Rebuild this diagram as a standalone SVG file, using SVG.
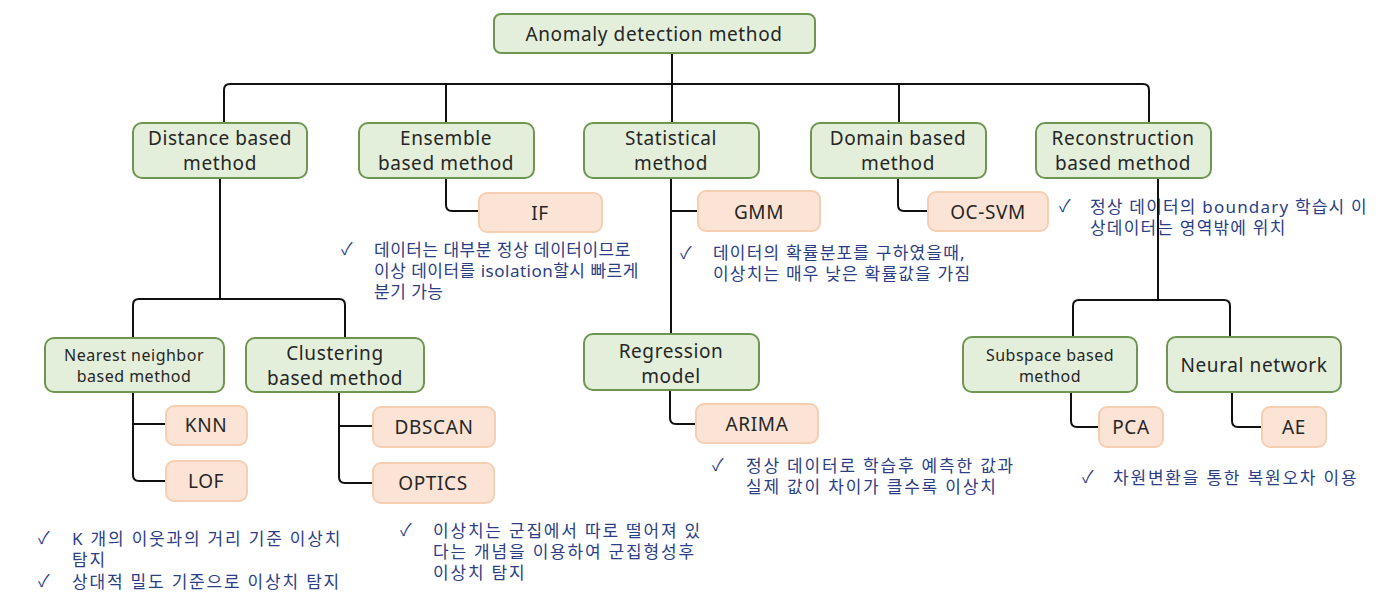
<svg xmlns="http://www.w3.org/2000/svg" width="1382" height="608" viewBox="0 0 1382 608">
<style>
.g{fill:#E3EFDB;stroke:#6F9650;stroke-width:2}
.o{fill:#FBE4D5;stroke:#F6CFB2;stroke-width:2}
.t{font-family:"Noto Sans","Liberation Sans",sans-serif;font-size:19px;letter-spacing:0.6px;fill:#262626;text-anchor:middle;dominant-baseline:central}
.s{font-size:16px;letter-spacing:0.5px}
.k{font-family:"Noto Sans","Noto Sans CJK KR",sans-serif;font-size:17px;letter-spacing:0.5px;fill:#2B3E86;dominant-baseline:central}
.m{letter-spacing:1.2px}
.w{letter-spacing:1.8px}
.c{fill:none;stroke:#111;stroke-width:2}
</style>
<rect width="1382" height="608" fill="#fff"/>
<g id="notes">
<text class="k" x="341" y="248">✓</text>
<text class="k" x="374" y="249">데이터는 대부분 정상 데이터이므로</text>
<text class="k" x="374" y="270">이상 데이터를 isolation할시 빠르게</text>
<text class="k" x="374" y="291">분기 가능</text>
<text class="k" x="680" y="252">✓</text>
<text class="k m" x="713" y="252">데이터의 확률분포를 구하였을때,</text>
<text class="k m" x="713" y="273">이상치는 매우 낮은 확률값을 가짐</text>
<text class="k" x="1059" y="205">✓</text>
<text class="k m" x="1090" y="206">정상 데이터의 boundary 학습시 이</text>
<text class="k m" x="1090" y="227">상데이터는 영역밖에 위치</text>
<text class="k" x="712" y="464">✓</text>
<text class="k w" x="746" y="465">정상 데이터로 학습후 예측한 값과</text>
<text class="k w" x="746" y="486">실제 값이 차이가 클수록 이상치</text>
<text class="k" x="1082" y="476">✓</text>
<text class="k w" x="1113" y="477">차원변환을 통한 복원오차 이용</text>
<text class="k" x="38" y="537">✓</text>
<text class="k w" x="72" y="538">K 개의 이웃과의 거리 기준 이상치</text>
<text class="k w" x="72" y="559">탐지</text>
<text class="k" x="38" y="580">✓</text>
<text class="k w" x="72" y="581">상대적 밀도 기준으로 이상치 탐지</text>
<text class="k" x="400" y="529">✓</text>
<text class="k w" x="433" y="530">이상치는 군집에서 따로 떨어져 있</text>
<text class="k w" x="433" y="551">다는 개념을 이용하여 군집형성후</text>
<text class="k w" x="433" y="572">이상치 탐지</text>
</g>
<g id="connectors">
<path class="c" d="M224 123V90Q224 84 230 84H1143Q1149 84 1149 90V123M446 84V123M672 53V123M899 84V123"/>
<path class="c" d="M220 178V299M133 338V305Q133 299 139 299H339Q345 299 345 305V338"/>
<path class="c" d="M133 392V475Q133 481 139 481H166M133 424H166"/>
<path class="c" d="M339 392V477Q339 483 345 483H373M339 426H373"/>
<path class="c" d="M446 178V205Q446 211 452 211H479"/>
<path class="c" d="M671 178V334M671 211H698"/>
<path class="c" d="M898 178V205Q898 211 904 211H928"/>
<path class="c" d="M670 390V418Q670 424 676 424H696"/>
<path class="c" d="M1158 178V300M1073 337V306Q1073 300 1079 300H1224Q1230 300 1230 306V337"/>
<path class="c" d="M1071 392V421Q1071 427 1077 427H1099"/>
<path class="c" d="M1232 392V421Q1232 427 1238 427H1262"/>
</g>
<g id="root"><rect class="g" x="494" y="14" width="321" height="39" rx="7"/><text class="t" x="654" y="34">Anomaly detection method</text></g>
<g id="distance"><rect class="g" x="133" y="123" width="174" height="55" rx="9"/><text class="t" x="220" y="138">Distance based</text><text class="t" x="220" y="163">method</text></g>
<g id="ensemble"><rect class="g" x="359" y="123" width="175" height="55" rx="9"/><text class="t" x="446" y="138">Ensemble</text><text class="t" x="446" y="163">based method</text></g>
<g id="statistical"><rect class="g" x="584" y="123" width="175" height="55" rx="9"/><text class="t" x="671" y="138">Statistical</text><text class="t" x="671" y="163">method</text></g>
<g id="domain"><rect class="g" x="811" y="123" width="175" height="55" rx="9"/><text class="t" x="898" y="138">Domain based</text><text class="t" x="898" y="163">method</text></g>
<g id="reconstruction"><rect class="g" x="1036" y="123" width="175" height="55" rx="9"/><text class="t" x="1123" y="138">Reconstruction</text><text class="t" x="1123" y="163">based method</text></g>
<g id="if"><rect class="o" x="479" y="193" width="123" height="39" rx="8"/><text class="t" x="540" y="213">IF</text></g>
<g id="gmm"><rect class="o" x="698" y="191" width="122" height="40" rx="8"/><text class="t" x="759" y="212">GMM</text></g>
<g id="ocsvm"><rect class="o" x="928" y="192" width="120" height="39" rx="8"/><text class="t" x="988" y="212">OC-SVM</text></g>
<g id="nearest"><rect class="g" x="45" y="338" width="179" height="54" rx="9"/><text class="t s" x="134" y="355">Nearest neighbor</text><text class="t s" x="134" y="376">based method</text></g>
<g id="clustering"><rect class="g" x="246" y="338" width="178" height="54" rx="9"/><text class="t" x="335" y="353">Clustering</text><text class="t" x="335" y="378">based method</text></g>
<g id="knn"><rect class="o" x="166" y="406" width="81" height="39" rx="8"/><text class="t" x="206" y="425">KNN</text></g>
<g id="lof"><rect class="o" x="166" y="461" width="81" height="40" rx="8"/><text class="t" x="206" y="481">LOF</text></g>
<g id="dbscan"><rect class="o" x="373" y="407" width="122" height="40" rx="8"/><text class="t" x="434" y="427">DBSCAN</text></g>
<g id="optics"><rect class="o" x="373" y="463" width="121" height="40" rx="8"/><text class="t" x="433" y="483">OPTICS</text></g>
<g id="regression"><rect class="g" x="584" y="334" width="175" height="56" rx="9"/><text class="t" x="671" y="351">Regression</text><text class="t" x="671" y="376">model</text></g>
<g id="arima"><rect class="o" x="696" y="404" width="122" height="39" rx="8"/><text class="t" x="757" y="424">ARIMA</text></g>
<g id="subspace"><rect class="g" x="963" y="337" width="174" height="55" rx="9"/><text class="t s" x="1050" y="355">Subspace based</text><text class="t s" x="1050" y="376">method</text></g>
<g id="neural"><rect class="g" x="1167" y="337" width="174" height="55" rx="9"/><text class="t" x="1254" y="365">Neural network</text></g>
<g id="pca"><rect class="o" x="1099" y="407" width="64" height="40" rx="8"/><text class="t" x="1131" y="427">PCA</text></g>
<g id="ae"><rect class="o" x="1262" y="407" width="64" height="40" rx="8"/><text class="t" x="1294" y="427">AE</text></g>
</svg>
